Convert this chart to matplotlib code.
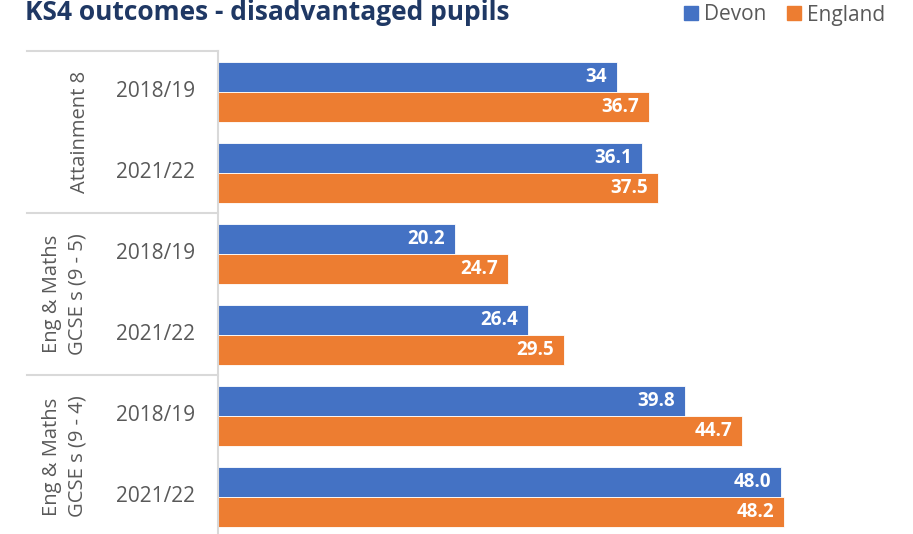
import matplotlib
matplotlib.use("Agg")
import matplotlib.pyplot as plt
import matplotlib.transforms as mtransforms
from matplotlib.patches import Patch
import numpy as np

# data
years = ["2018/19", "2021/22", "2018/19", "2021/22", "2018/19", "2021/22"]
groups = ["Attainment 8", "Eng & Maths\nGCSE s (9 - 5)", "Eng & Maths\nGCSE s (9 - 4)"]
devon = [34, 36.1, 20.2, 26.4, 39.8, 48.0]
england = [36.7, 37.5, 24.7, 29.5, 44.7, 48.2]
devon_labels = ["34", "36.1", "20.2", "26.4", "39.8", "48.0"]
england_labels = ["36.7", "37.5", "24.7", "29.5", "44.7", "48.2"]

blue = "#4472C4"
orange = "#ED7D31"
font = "Open Sans"

fig = plt.figure(figsize=(9.13, 5.34), dpi=100)
ax = fig.add_axes([218/913, 0, 677/913, 1 - 51/534])

y = np.arange(len(years))
h = 0.37
ax.barh(y - h/2, devon, height=h, color=blue, edgecolor="white", linewidth=0.6)
ax.barh(y + h/2, england, height=h, color=orange, edgecolor="white", linewidth=0.6)

ax.set_xlim(0, 57.7)
ax.set_ylim(5.457, -0.5)

# value labels inside bar ends
for i in range(len(years)):
    ax.annotate(devon_labels[i], (devon[i], y[i] - h/2), xytext=(-7, 0), textcoords="offset points",
                ha="right", va="center", color="white", fontweight="bold", fontsize=13.5, family=font)
    ax.annotate(england_labels[i], (england[i], y[i] + h/2), xytext=(-7, 0), textcoords="offset points",
                ha="right", va="center", color="white", fontweight="bold", fontsize=13.5, family=font)

ax.set_xticks([])
ax.set_yticks([])
for s in ["top", "right", "bottom"]:
    ax.spines[s].set_visible(False)
ax.spines["left"].set_color("#D9D9D9")
ax.spines["left"].set_linewidth(1.5)

trans = mtransforms.blended_transform_factory(ax.transAxes, ax.transData)

# year tick labels
for i, yr in enumerate(years):
    ax.text(-0.034, y[i], yr, transform=trans, ha="right", va="center",
            fontsize=15, color="#595959", family=font)

# group labels
group_x = [-0.204, -0.226, -0.226]
for g, lab in enumerate(groups):
    ax.text(group_x[g], 2*g + 0.5, lab, transform=trans, rotation=90, ha="center", va="center",
            fontsize=14.5, color="#595959", family=font, linespacing=1.35, multialignment="center")

# group separators
for yy in [-0.5, 1.5, 3.5]:
    ax.plot([-0.282, 0], [yy, yy], transform=trans, color="#D9D9D9", lw=1.5, clip_on=False)

fig.text(25/913, 1 - 12/534, "KS4 outcomes - disadvantaged pupils", ha="left", va="center",
         fontsize=19, fontweight="bold", color="#1F3864", family=font)

# legend
handles = [Patch(color=blue, label="Devon"), Patch(color=orange, label="England")]
fig.legend(handles=handles, loc="center right", bbox_to_anchor=(0.99, 1 - 15/534), ncol=2,
           frameon=False, handlelength=0.65, handleheight=0.65, handletextpad=0.3, columnspacing=1.0,
           prop={"family": font, "size": 15}, labelcolor="#595959")

fig.savefig("out.png", dpi=100)
